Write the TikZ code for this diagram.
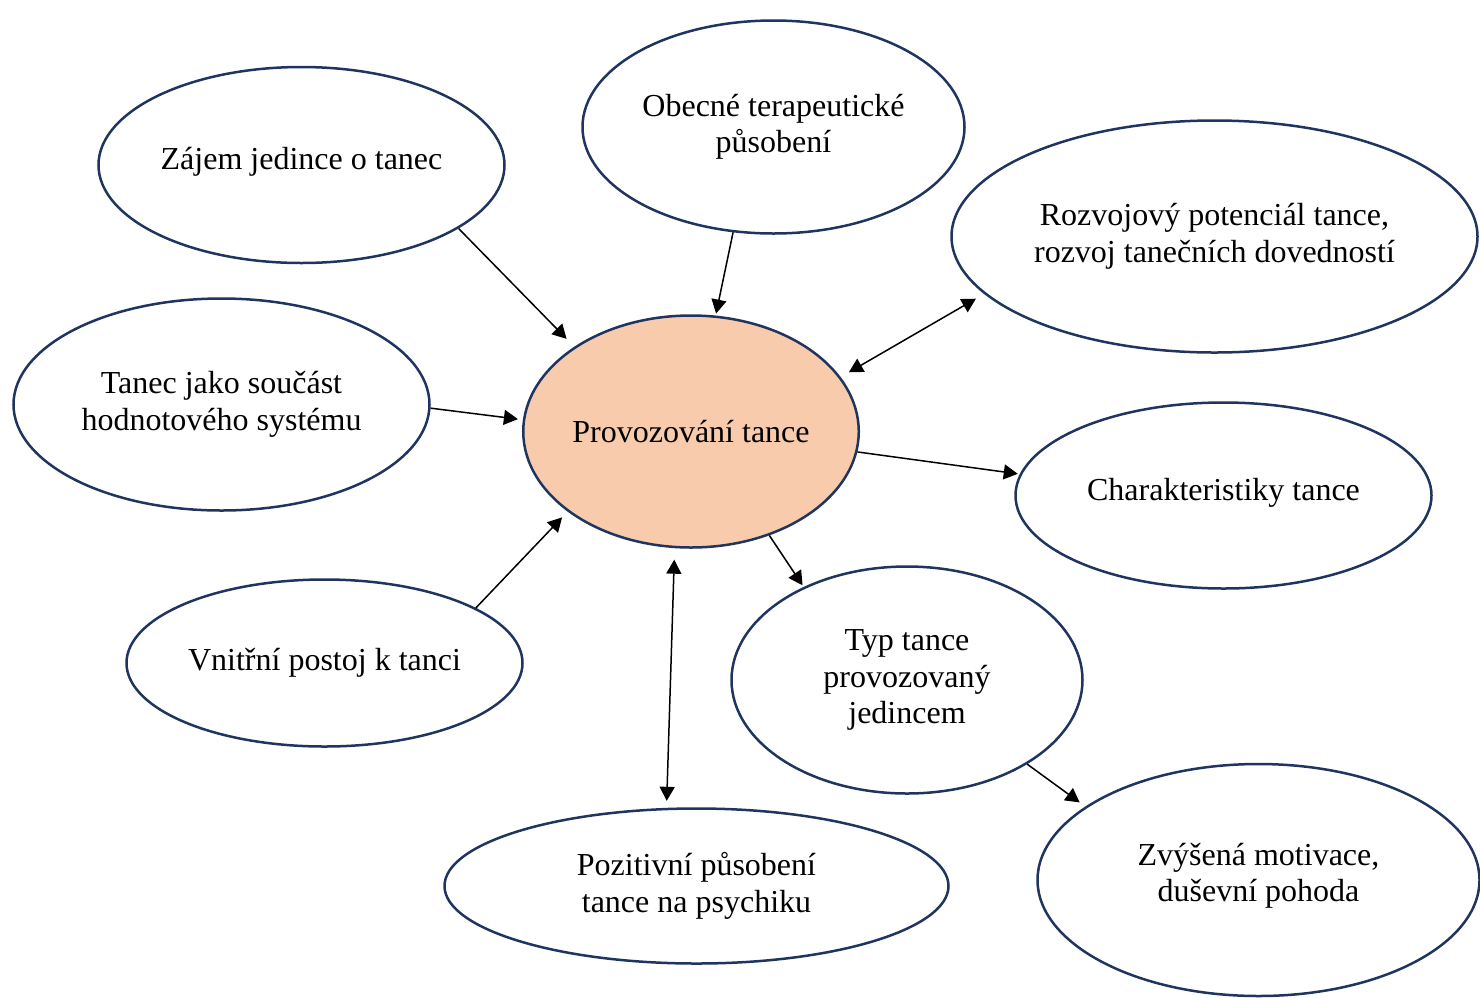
\documentclass[tikz,border=0pt]{standalone}
\usepackage{fontspec}
\setmainfont{Liberation Serif}
\usetikzlibrary{shapes.geometric,arrows.meta}
\definecolor{rim}{HTML}{1F3560}
\definecolor{peach}{HTML}{F8CBAD}
% extra invisible depth, lifts a label a little inside its bubble
\newcommand{\lift}[1]{\rule[-#1]{0pt}{0pt}}
\begin{document}
\begin{tikzpicture}[x=1pt,y=-1pt,
  bubble/.style={ellipse,draw=rim,line width=2.5pt,inner sep=0pt,align=center,
    font=\fontsize{32}{36.5}\selectfont},
  tip/.style={Triangle[length=14pt,width=15pt]},
  link/.style={-{Triangle[length=14pt,width=15pt]},line width=1.5pt,black},
  dlink/.style={{Triangle[length=14pt,width=15pt]}-{Triangle[length=14pt,width=15pt]},line width=1.5pt,black}]
\useasboundingbox (0,0) rectangle (1480,997);
\clip (0,0) rectangle (1480,997);

% satellites round the central topic
\node[bubble,minimum width=406pt,minimum height=196pt] (zajem) at (301.5,165) {Zájem jedince o tanec\lift{13pt}};
\node[bubble,minimum width=382pt,minimum height=213pt] (obecne) at (773.5,127) {Obecné terapeutické\\působení};
\node[bubble,minimum width=526pt,minimum height=232pt] (rozvoj) at (1214.5,236.5) {Rozvojový potenciál tance,\\rozvoj tanečních dovedností};
\node[bubble,minimum width=416pt,minimum height=212pt] (tanec) at (221.5,404.5) {Tanec jako součást\\hodnotového systému};
\node[bubble,fill=peach,minimum width=331pt,minimum height=232pt] (prov) at (691,431.5) {Provozování tance};
\node[bubble,minimum width=416pt,minimum height=186pt] (char) at (1223.5,495.5) {Charakteristiky tance\lift{13pt}};
\node[bubble,minimum width=396pt,minimum height=167pt] (vnitrni) at (324.5,663) {Vnitřní postoj k tanci};
\node[bubble,minimum width=351pt,minimum height=227pt] (typ) at (907,680) {Typ tance\\provozovaný\\jedincem};
\node[bubble,minimum width=504pt,minimum height=155pt] (poz) at (696.5,886) {Pozitivní působení\\tance na psychiku};
\node[bubble,minimum width=442pt,minimum height=232pt] (zvys) at (1258.5,880) {Zvýšená motivace,\\duševní pohoda\lift{15pt}};

% connectors
\draw[link,shorten >=11pt] (zajem.-22) -- (prov.144);
\draw[link,shorten >=2pt] (obecne.-111) -- (prov.78);
\draw[dlink,shorten <=9.5pt,shorten >=9.5pt] (prov.20) -- (rozvoj.194);
\draw[link,shorten >=5pt] (tanec.-1.5) -- (prov.176);
\draw[link,shorten >=2pt] (prov.-7) -- (char.174);
\draw[link,shorten >=8pt] (vnitrni.20) -- (prov.213);
\draw[dlink,shorten <=11.5pt,shorten >=7pt] (prov.262) -- (poz.111);
\draw[link,shorten >=2pt] (prov.-53) -- (typ.138);
\draw[link,shorten >=7pt] (typ.-35) -- (zvys.157);
\end{tikzpicture}
\end{document}
